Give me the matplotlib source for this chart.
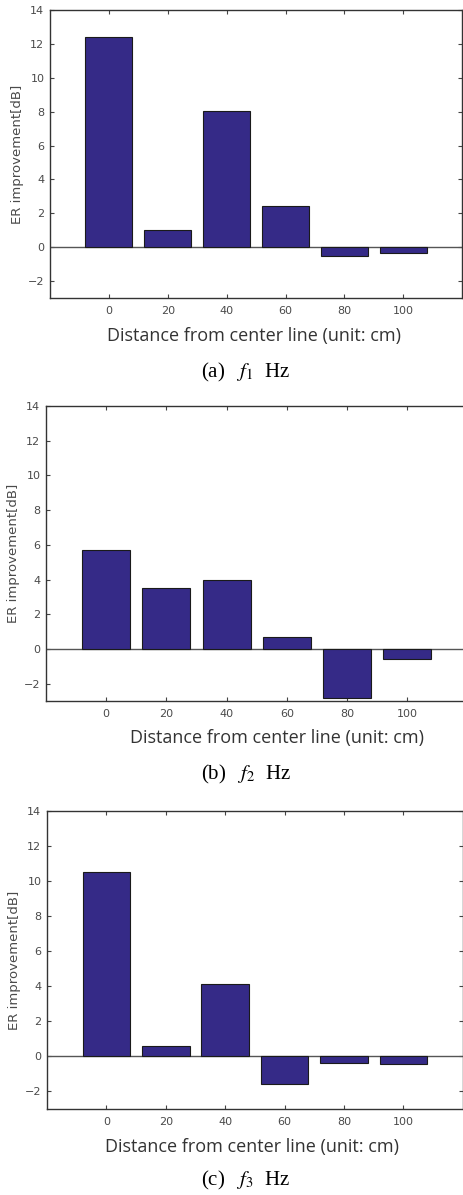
import numpy as np
import matplotlib
matplotlib.use("Agg")
import matplotlib.pyplot as plt

plt.rcParams['mathtext.fontset'] = 'stix'

# data
distance = [0, 20, 40, 60, 80, 100]
er_f1 = [12.4, 1.0, 8.05, 2.45, -0.55, -0.35]
er_f2 = [5.7, 3.5, 4.0, 0.7, -2.85, -0.6]
er_f3 = [10.5, 0.6, 4.15, -1.6, -0.35, -0.45]
yticks = [-2, 0, 2, 4, 6, 8, 10, 12, 14]
captions = ["(a)   $f_1$  Hz", "(b)   $f_2$  Hz", "(c)   $f_3$  Hz"]

W, H = 464, 1195
fig = plt.figure(figsize=(W / 100, H / 100), dpi=100)

# panel layout in pixels: left, top, bottom, x-unit px, xlabel center x, xlabel y, caption y
layout = [
    (50, 10, 298, 2.945, 254, 336, 372),
    (46, 406, 701, 3.01, 277, 738, 774),
    (47, 811, 1109, 2.97, 252, 1147, 1180),
]

bar_col = "#352a87"
txt_col = "#4a4a4a"

for vals, cap, (l, t, b, ppu, xlx, xly, capy) in zip([er_f1, er_f2, er_f3], captions, layout):
    w = 140 * ppu
    ax = fig.add_axes([l / W, 1 - b / H, w / W, (b - t) / H])
    ax.bar(distance, vals, width=16, color=bar_col, edgecolor="#1a1a1a", linewidth=0.8, zorder=3)
    ax.axhline(0, color="#555555", lw=1.0, zorder=2)
    ax.set_xlim(-20, 120)
    ax.set_ylim(-3, 14)
    ax.set_xticks(distance)
    ax.set_yticks(yticks)
    ax.tick_params(direction="in", top=True, right=True, length=3, width=0.8,
                   colors="#444444", labelsize=8, labelcolor=txt_col)
    ax.tick_params(axis="x", pad=6)
    ax.tick_params(axis="y", pad=4)
    for s in ax.spines.values():
        s.set_color("#333333")
        s.set_linewidth(1.0)
    ax.set_ylabel("ER improvement[dB]", fontsize=9.5, color=txt_col, labelpad=3)
    fig.text(xlx / W, 1 - xly / H, "Distance from center line (unit: cm)",
             ha="center", va="center", fontsize=13, color="#333333", family="Open Sans")
    fig.text(246 / W, 1 - capy / H, cap, ha="center", va="center",
             fontsize=15, family="Liberation Serif")

fig.savefig("out.png", dpi=100)
